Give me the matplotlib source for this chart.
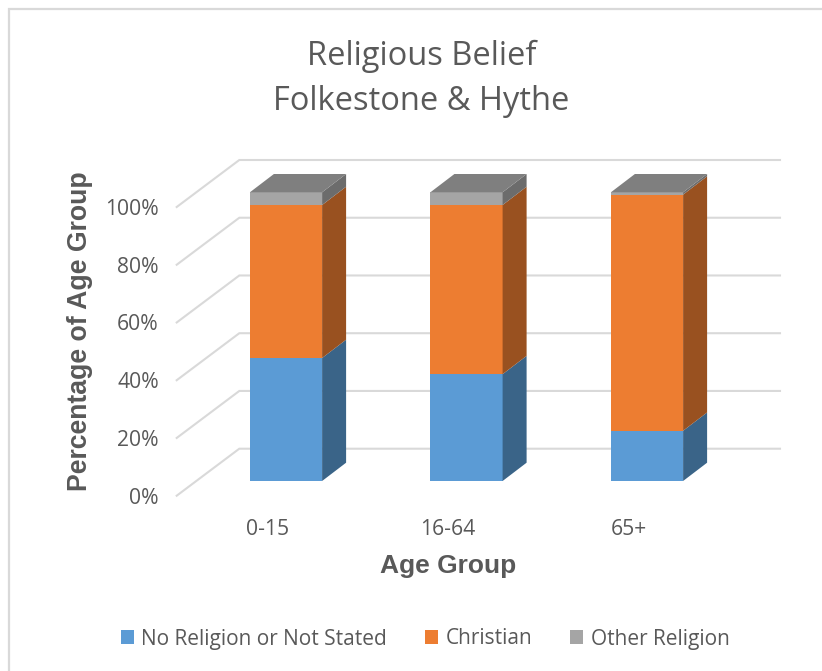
import matplotlib
matplotlib.use("Agg")
import matplotlib.pyplot as plt
from matplotlib.patches import Patch
from matplotlib.lines import Line2D
import numpy as np

age_groups = ["0-15", "16-64", "65+"]
no_religion = [42.6, 37.0, 17.4]
christian = [53.0, 58.6, 81.8]
other_religion = [4.4, 4.4, 0.8]
percent_ticks = [0, 20, 40, 60, 80, 100]

series_names = ["No Religion or Not Stated", "Christian", "Other Religion"]
front_colors = ["#5B9BD5", "#ED7D31", "#A5A5A5"]
side_colors = ["#3A6488", "#995120", "#6C6C6C"]
top_color = "#7F7F7F"
text_color = "#595959"
grid_color = "#D9D9D9"

W, H = 822, 671
fig = plt.figure(figsize=(W / 100, H / 100), dpi=100, facecolor="white")

# Chart frame: only the top and left edges fall inside the canvas
fig.add_artist(Line2D([8.5 / W, 8.5 / W, 1], [0, 1 - 8.5 / H, 1 - 8.5 / H],
                      transform=fig.transFigure, color=grid_color, lw=1.6,
                      solid_joinstyle="miter"))

# Axes box in pixels; one x unit is one category step, one y unit is 1 %
left, right, top, bottom = 176.7, 780.0, 150.0, 500.0
px_per_cat, px_per_pct = 180.5, 2.887
ax = fig.add_axes([left / W, 1 - bottom / H, (right - left) / W, (bottom - top) / H])
ax.set_xlim((left - 286.0) / px_per_cat, (right - 286.0) / px_per_cat)
ax.set_ylim((481.0 - bottom) / px_per_pct, (481.0 - top) / px_per_pct)
ax.patch.set_visible(False)
for spine in ax.spines.values():
    spine.set_visible(False)

bar_width = 0.40
bar_dx, bar_dy = 24.0 / px_per_cat, 18.3 / px_per_pct
wall_front_y = -14.7 / px_per_pct
wall_back_y = 32.3 / px_per_pct
wall_left_x = ax.get_xlim()[0]
wall_back_x = wall_left_x + 62.6 / px_per_cat

# Side wall and back wall gridlines
for v in percent_ticks:
    ax.plot([wall_left_x, wall_back_x, ax.get_xlim()[1]],
            [v + wall_front_y, v + wall_back_y, v + wall_back_y],
            color=grid_color, lw=1.5, zorder=1, solid_joinstyle="miter", clip_on=False)

# Stacked bars: front faces, right-hand sides, then a lid on each stack
x = np.arange(len(age_groups))
base = np.zeros(len(age_groups))
for values, front, side in zip([no_religion, christian, other_religion], front_colors, side_colors):
    values = np.array(values)
    ax.bar(x, values, bar_width, bottom=base, color=front, zorder=3, linewidth=0)
    for xi, b, v in zip(x, base, values):
        xr = xi + bar_width / 2
        ax.fill([xr, xr + bar_dx, xr + bar_dx, xr],
                [b, b + bar_dy, b + v + bar_dy, b + v],
                color=side, zorder=3, linewidth=0)
    base = base + values
for xi, t in zip(x, base):
    xl = xi - bar_width / 2
    xr = xi + bar_width / 2
    ax.fill([xl, xr, xr + bar_dx, xl + bar_dx], [t, t, t + bar_dy, t + bar_dy],
            color=top_color, zorder=3, linewidth=0)

# Category labels sit on the front edge of the floor, left of the bar centres
ax.set_xticks(x - 18.5 / px_per_cat, age_groups)
ax.set_yticks([v + wall_front_y for v in percent_ticks], [f"{v}%" for v in percent_ticks])
ax.tick_params(axis="both", length=0, colors=text_color, labelsize=15.2)
ax.tick_params(axis="x", pad=14)
ax.tick_params(axis="y", pad=13)
for lab in ax.get_xticklabels() + ax.get_yticklabels():
    lab.set_family("Open Sans")

fig.text(422 / W, 1 - 56 / H, "Religious Belief", ha="center", va="center",
         family="Open Sans", fontsize=23.5, color=text_color)
fig.text(421 / W, 1 - 101 / H, "Folkestone & Hythe", ha="center", va="center",
         family="Open Sans", fontsize=23.5, color=text_color)
fig.text(448 / W, 1 - 566 / H, "Age Group", ha="center", va="center",
         family="Liberation Sans", fontweight="bold", fontsize=19, color=text_color)
fig.text(80 / W, 1 - 331 / H, "Percentage of Age Group", ha="center", va="center", rotation=90,
         family="Liberation Sans", fontweight="bold", fontsize=19.2, color=text_color)

handles = [Patch(facecolor=c, edgecolor="none") for c in front_colors]
fig.legend(handles, series_names, loc="center", bbox_to_anchor=(425 / W, 1 - 639 / H), ncol=3,
           frameon=False, handlelength=0.65, handleheight=0.65, handletextpad=0.35,
           columnspacing=1.8, labelcolor=text_color,
           prop={"family": "Open Sans", "size": 15})

fig.savefig("out.png", dpi=100)
